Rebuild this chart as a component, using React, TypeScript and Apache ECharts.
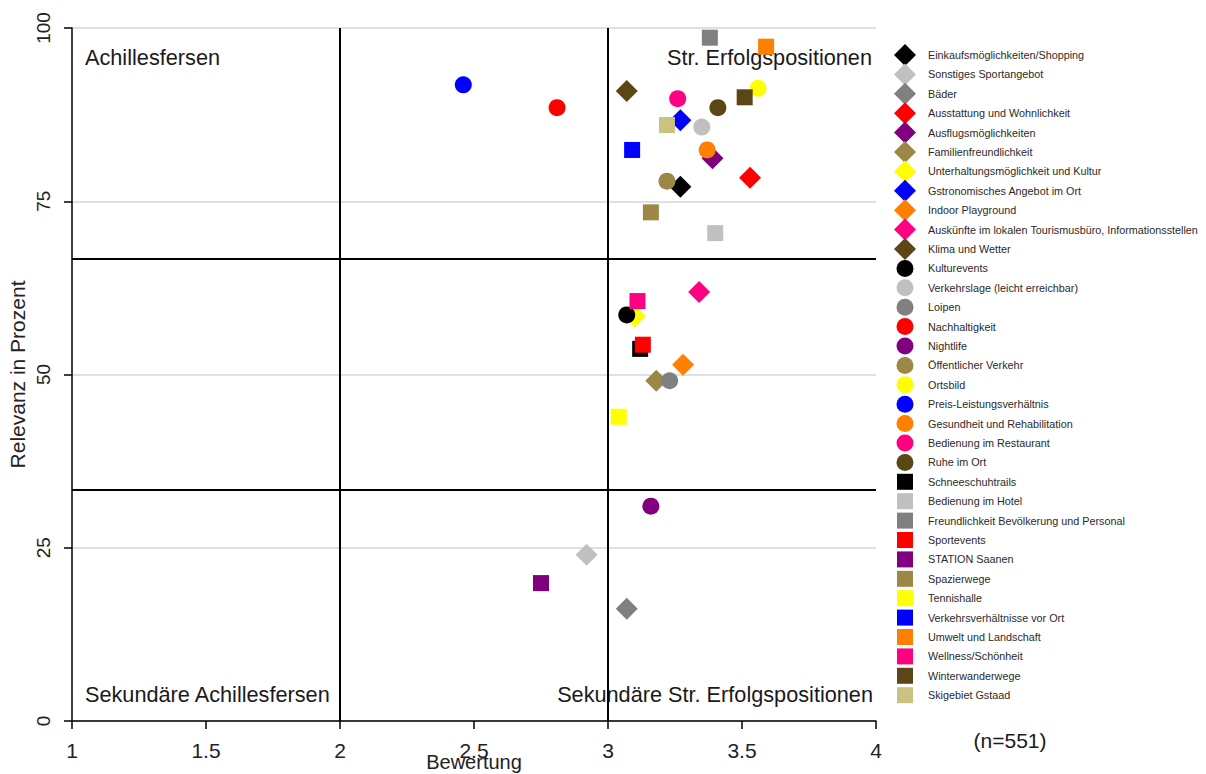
import React, { useEffect, useRef } from "react";
import * as echarts from "echarts";

const categories = [
  "Einkaufsmöglichkeiten/Shopping",
  "Sonstiges Sportangebot",
  "Bäder",
  "Ausstattung und Wohnlichkeit",
  "Ausflugsmöglichkeiten",
  "Familienfreundlichkeit",
  "Unterhaltungsmöglichkeit und Kultur",
  "Gstronomisches Angebot im Ort",
  "Indoor Playground",
  "Auskünfte im lokalen Tourismusbüro, Informationsstellen",
  "Klima und Wetter",
  "Kulturevents",
  "Verkehrslage (leicht erreichbar)",
  "Loipen",
  "Nachhaltigkeit",
  "Nightlife",
  "Öffentlicher Verkehr",
  "Ortsbild",
  "Preis-Leistungsverhältnis",
  "Gesundheit und Rehabilitation",
  "Bedienung im Restaurant",
  "Ruhe im Ort",
  "Schneeschuhtrails",
  "Bedienung im Hotel",
  "Freundlichkeit Bevölkerung und Personal",
  "Sportevents",
  "STATION Saanen",
  "Spazierwege",
  "Tennishalle",
  "Verkehrsverhältnisse vor Ort",
  "Umwelt und Landschaft",
  "Wellness/Schönheit",
  "Winterwanderwege",
  "Skigebiet Gstaad",
];

const bewertung = [
  3.27, 2.92, 3.07, 3.53, 3.39, 3.18, 3.1, 3.27, 3.28, 3.34, 3.07,
  3.07, 3.35, 3.23, 2.81, 3.16, 3.22, 3.56, 2.46, 3.37, 3.26, 3.41,
  3.12, 3.4, 3.38, 3.13, 2.75, 3.16, 3.04, 3.09, 3.59, 3.11, 3.51, 3.22,
];

const relevanz = [
  77.1, 24.0, 16.2, 78.4, 81.2, 49.1, 58.4, 86.7, 51.4, 61.9, 90.9,
  58.6, 85.7, 49.1, 88.5, 31.0, 77.9, 91.3, 91.8, 82.4, 89.8, 88.5,
  53.7, 70.4, 98.6, 54.3, 19.9, 73.4, 43.9, 82.4, 97.3, 60.6, 90.0, 86.0,
];

const xTicks = { min: 1, max: 4, interval: 0.5 };
const yTicks = { min: 0, max: 100, interval: 25 };
const xThresholds = [2, 3];
const yThresholds = [100 / 3, 200 / 3];

const quadrantLabels = [
  "Achillesfersen",
  "Str. Erfolgspositionen",
  "Sekundäre Achillesfersen",
  "Sekundäre Str. Erfolgspositionen",
];
const sampleNote = "(n=551)";

// styles
const palette = [
  "#000000", "#c0c0c0", "#808080", "#ff0000", "#800080", "#9c8746",
  "#ffff00", "#0000ff", "#ff7f00", "#ff0080", "#5b4716", "#cbc282",
];
const shapeOf = (i: number) => (i < 11 ? "diamond" : i < 22 ? "circle" : "rect");
const colorOf = (i: number) => palette[i < 11 ? i : i < 22 ? i - 11 : i - 22];
const sizeOf = (i: number) => (i < 11 ? 22 : i < 22 ? 17 : 16);
const legendIcon = (i: number) =>
  i < 11
    ? "path://M0,0M36,22M18,0L29,11L18,22L7,11Z"
    : i < 22
    ? "path://M0,0M36,22M18,2.5A8.5,8.5,0,1,1,18,19.5A8.5,8.5,0,1,1,18,2.5Z"
    : "path://M0,0M36,22M10,3L26,3L26,19L10,19Z";

const FONT = "'Liberation Sans', Arial, sans-serif";

export default function App() {
  const ref = useRef<HTMLDivElement>(null);
  useEffect(() => {
    document.body.style.margin = "0";
    if (!ref.current) return;
    const chart = echarts.init(ref.current, undefined, { renderer: "svg" });
    const series: any[] = categories.map((name, i) => ({
      type: "scatter",
      name,
      data: [[bewertung[i], relevanz[i]]],
      symbol: shapeOf(i),
      symbolSize: sizeOf(i),
      itemStyle: { color: colorOf(i), opacity: 1 },
      emphasis: { disabled: true },
    }));
    series.push({
      type: "scatter",
      name: "quadrants",
      data: [],
      silent: true,
      markLine: {
        silent: true,
        symbol: ["none", "none"],
        label: { show: false },
        lineStyle: { color: "#000", width: 2, type: "solid" },
        emphasis: { disabled: true },
        data: [
          ...xThresholds.map((v) => ({ xAxis: v })),
          ...yThresholds.map((v) => ({ yAxis: v })),
        ],
      },
    });
    const qFont = `21.7px ${FONT}`;
    chart.setOption({
      animation: false,
      grid: { left: 72, right: 330, top: 28, bottom: 53, outerBoundsMode: "none", containLabel: false },
      xAxis: {
        type: "value",
        ...xTicks,
        name: "Bewertung",
        nameLocation: "middle",
        nameGap: 31,
        nameMoveOverlap: false,
        nameTextStyle: { fontFamily: FONT, fontSize: 20, color: "#222" },
        axisLine: { show: true, onZero: false, lineStyle: { color: "#000", width: 1.5 } },
        axisTick: { show: true, length: 8, lineStyle: { color: "#000", width: 1.5 } },
        axisLabel: { fontFamily: FONT, fontSize: 21, color: "#222", margin: 19, hideOverlap: false },
        splitLine: { show: false },
      },
      yAxis: {
        type: "value",
        ...yTicks,
        name: "Relevanz in Prozent",
        nameLocation: "middle",
        nameRotate: 90,
        nameGap: 44,
        nameMoveOverlap: false,
        nameTextStyle: { fontFamily: FONT, fontSize: 21, color: "#222" },
        axisLine: { show: true, lineStyle: { color: "#000", width: 1.5 } },
        axisTick: { show: true, length: 8, lineStyle: { color: "#000", width: 1.5 } },
        axisLabel: { fontFamily: FONT, fontSize: 19, color: "#222", rotate: 90, margin: 19 },
        splitLine: { show: true, lineStyle: { color: "#d6d6d6", width: 1.5 } },
      },
      legend: {
        orient: "vertical",
        left: 887,
        top: 44,
        padding: 0,
        itemWidth: 36,
        itemHeight: 22,
        itemGap: -2.6,
        selectedMode: false,
        textStyle: { fontFamily: FONT, fontSize: 10.8, color: "#2a2a2a", width: 250, overflow: "none" },
        data: categories.map((name, i) => ({ name, icon: legendIcon(i) })),
      },
      graphic: [
        { type: "text", x: 85, y: 57, style: { text: quadrantLabels[0], font: qFont, fill: "#1a1a1a", align: "left", verticalAlign: "middle" } },
        { type: "text", x: 872, y: 57, style: { text: quadrantLabels[1], font: qFont, fill: "#1a1a1a", align: "right", verticalAlign: "middle" } },
        { type: "text", x: 85, y: 694, style: { text: quadrantLabels[2], font: qFont, fill: "#1a1a1a", align: "left", verticalAlign: "middle" } },
        { type: "text", x: 873, y: 694, style: { text: quadrantLabels[3], font: qFont, fill: "#1a1a1a", align: "right", verticalAlign: "middle" } },
        { type: "text", x: 1010, y: 740, style: { text: sampleNote, font: `21px ${FONT}`, fill: "#1a1a1a", align: "center", verticalAlign: "middle" } },
      ],
      series,
    });
    return () => chart.dispose();
  }, []);
  return <div ref={ref} style={{ width: 1206, height: 774 }} />;
}
